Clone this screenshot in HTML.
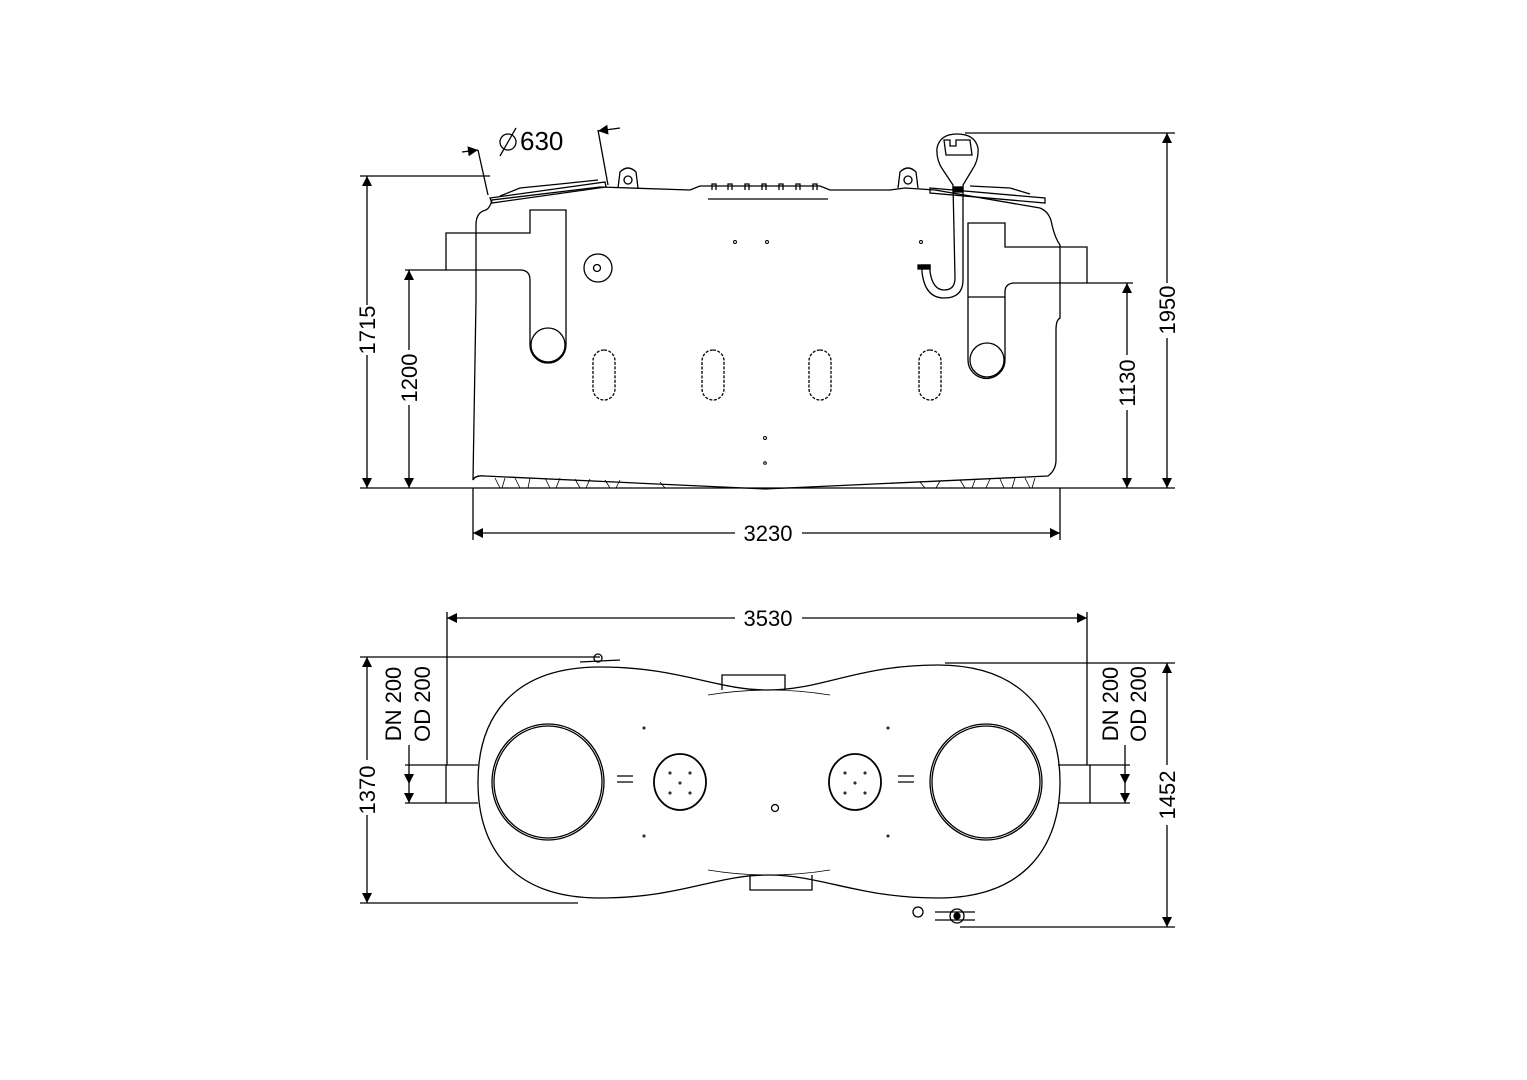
<!DOCTYPE html>
<html><head><meta charset="utf-8"><style>
html,body{margin:0;padding:0;background:#fff}
svg{display:block}
text{font-family:"Liberation Sans",Arial,sans-serif;font-size:22px;fill:#000}
</style></head><body>
<svg width="1527" height="1080" viewBox="0 0 1527 1080" xmlns="http://www.w3.org/2000/svg">
<defs>
<marker id="a" viewBox="0 0 10 10" refX="10" refY="5" markerWidth="14" markerHeight="10" markerUnits="userSpaceOnUse" orient="auto-start-reverse"><path d="M0,0 L10,5 L0,10 Z" fill="#000"/></marker>
</defs>
<g fill="none" stroke="#000" stroke-width="1.3">
<line x1="360" y1="488" x2="1175" y2="488"/>
<path d="M486,210 Q476,212 476,225 L476,300 L473,480 Q475,475 485,476 L765,489 L1048,476 Q1056,470 1056,460 L1056,330 Q1056,320 1060,318 L1060,245 Q1055,238 1052,225 Q1050,212 1040,208 L935,190 L905,188 L890,190 L830,190 L820,186 L700,186 L690,190 L600,187 L492,200 Q490,208 486,210 Z"/>
<path d="M490,198 L605,182 L606,187 L492,203 Z"/>
<path d="M500,196 L520,188 L560,184 L598,180"/>
<path d="M618,188 L620,172 Q628,164 636,172 L638,188"/><circle cx="628" cy="180" r="4"/>
<path d="M898,188 L900,172 Q908,164 916,172 L918,188"/><circle cx="908" cy="180" r="4"/>
<path d="M930,188 L1045,198 L1045,203 L930,193 Z"/>
<path d="M970,186 L1010,188 L1030,194"/>
<path d="M712,190 L712,184 L716,184 L716,190 M728,190 L728,184 L732,184 L732,190 M745,190 L745,184 L749,184 L749,190 M762,190 L762,184 L766,184 L766,190 M779,190 L779,184 L783,184 L783,190 M796,190 L796,184 L800,184 L800,190 M813,190 L813,184 L817,184 L817,190"/>
<line x1="708" y1="199" x2="828" y2="199"/>
<path d="M446,233 L530,233 L530,210 L566,210 L566,345 A18,18 0 0 1 530,345 L530,280 Q530,270 520,270 L446,270 Z"/>
<circle cx="548" cy="345" r="17"/>
<path d="M1087,247 L1005,247 L1005,223 L968,223 L968,360 A18,18 0 0 0 1005,360 L1005,292 Q1005,283 1015,283 L1087,283 Z"/>
<circle cx="987" cy="360" r="17"/>
<line x1="968" y1="297" x2="1005" y2="297"/>
<path d="M953,185 L943,170 Q936,160 937,148 Q940,134 957,134 Q975,134 978,148 Q979,160 972,170 L963,185 L963,280 Q963,298 944,298 Q925,298 922,272 L922,265 L930,265 L930,272 Q933,290 944,290 Q955,290 955,278 L953,185 Z"/>
<path d="M944,140 L950,140 L950,146 L956,146 L956,140 L970,140 L972,155 L946,155 Z"/>
<rect x="953" y="187" width="10" height="5" fill="#000"/>
<rect x="918" y="265" width="12" height="4" fill="#000"/>
<circle cx="598" cy="268" r="14"/><circle cx="597" cy="268" r="3.5"/>
<g stroke-dasharray="3,1.5">
<rect x="593" y="350" width="22" height="50" rx="11"/>
<rect x="702" y="350" width="22" height="50" rx="11"/>
<rect x="809" y="350" width="22" height="50" rx="11"/>
<rect x="919" y="350" width="22" height="50" rx="11"/>
</g>
<g stroke-width="1"><circle cx="735" cy="242" r="1.5"/><circle cx="767" cy="242" r="1.5"/><circle cx="921" cy="242" r="1.5"/><circle cx="765" cy="438" r="1.5"/><circle cx="765" cy="463" r="1.3"/></g>
<path stroke-width="0.8" d="M495,478 L500,488 M505,478 L502,488 M515,478 L520,488 M530,478 L528,488 M545,478 L550,488 M560,478 L556,488 M575,479 L580,488 M590,479 L586,488 M605,480 L610,488 M620,480 L616,488 M660,482 L665,488 M990,479 L986,488 M1000,479 L1004,488 M1015,478 L1012,488 M1025,478 L1030,488 M1035,478 L1032,488 M920,482 L925,488 M940,481 L936,488 M960,480 L965,488 M975,480 L972,488"/>
<line x1="360" y1="176" x2="490" y2="176"/>
<line x1="367" y1="176" x2="367" y2="305" marker-start="url(#a)"/>
<line x1="367" y1="355" x2="367" y2="488" marker-end="url(#a)"/>
<line x1="405" y1="270" x2="446" y2="270"/>
<line x1="409" y1="270" x2="409" y2="350" marker-start="url(#a)"/>
<line x1="409" y1="405" x2="409" y2="488" marker-end="url(#a)"/>
<line x1="473" y1="488" x2="473" y2="540"/><line x1="1060" y1="488" x2="1060" y2="540"/>
<line x1="473" y1="533" x2="735" y2="533" marker-start="url(#a)"/>
<line x1="802" y1="533" x2="1060" y2="533" marker-end="url(#a)"/>
<line x1="1087" y1="283" x2="1133" y2="283"/>
<line x1="1127" y1="283" x2="1127" y2="355" marker-start="url(#a)"/>
<line x1="1127" y1="410" x2="1127" y2="488" marker-end="url(#a)"/>
<line x1="965" y1="133" x2="1175" y2="133"/>
<line x1="1167" y1="133" x2="1167" y2="283" marker-start="url(#a)"/>
<line x1="1167" y1="338" x2="1167" y2="488" marker-end="url(#a)"/>
<line x1="488" y1="195" x2="478" y2="150"/><line x1="608" y1="185" x2="598" y2="130"/>
<line x1="462" y1="152" x2="478" y2="150" marker-end="url(#a)"/>
<line x1="620" y1="128" x2="598" y2="131" marker-end="url(#a)"/>
<circle cx="508" cy="142" r="8"/><line x1="500" y1="156" x2="516" y2="128"/>

<path d="M600,667 C510,667 478,720 478,782 C478,845 510,898 600,898 C680,898 715,875 768,875 C822,875 858,898 938,898 C1026,898 1060,845 1060,782 C1060,720 1026,665 938,665 C858,665 822,690 768,690 C715,690 680,667 600,667 Z"/>
<path d="M722,690 L722,675 L785,675 L785,690"/><path d="M750,875 L750,890 L812,890 L812,875"/>
<path d="M708,695 Q768,685 830,695 M708,870 Q768,880 830,870" stroke-width="0.8"/>
<ellipse cx="548" cy="782" rx="56" ry="58"/><ellipse cx="548" cy="782" rx="54" ry="56"/>
<ellipse cx="986" cy="782" rx="56" ry="58"/><ellipse cx="986" cy="782" rx="54" ry="56"/>
<ellipse cx="680" cy="782" rx="26" ry="28" stroke-width="1.8"/>
<ellipse cx="855" cy="782" rx="26" ry="28" stroke-width="1.8"/>
<path d="M617,776 L633,776 M617,782 L633,782 M898,776 L914,776 M898,782 L914,782"/>
<circle cx="775" cy="808" r="3.5"/>
<g stroke-width="1"><circle cx="644" cy="728" r="1"/><circle cx="888" cy="728" r="1"/><circle cx="644" cy="836" r="1"/><circle cx="888" cy="836" r="1"/>
<circle cx="670" cy="773" r="1"/><circle cx="690" cy="773" r="1"/><circle cx="680" cy="783" r="1"/><circle cx="670" cy="793" r="1"/><circle cx="690" cy="793" r="1"/>
<circle cx="845" cy="773" r="1"/><circle cx="865" cy="773" r="1"/><circle cx="855" cy="783" r="1"/><circle cx="845" cy="793" r="1"/><circle cx="865" cy="793" r="1"/></g>
<path d="M478,765 L446,765 L446,803 L478,803"/>
<path d="M1058,765 L1090,765 L1090,803 L1058,803"/>
<circle cx="598" cy="658" r="4"/><path d="M580,662 L620,660"/>
<circle cx="918" cy="912" r="5"/><circle cx="957" cy="916" r="7"/><circle cx="957" cy="916" r="3" fill="#000"/><path d="M935,912 L975,912 M935,920 L975,920"/>
<line x1="447" y1="612" x2="447" y2="765"/><line x1="1087" y1="612" x2="1087" y2="765"/>
<line x1="447" y1="618" x2="735" y2="618" marker-start="url(#a)"/>
<line x1="802" y1="618" x2="1087" y2="618" marker-end="url(#a)"/>
<line x1="360" y1="657" x2="600" y2="657"/>
<line x1="360" y1="903" x2="578" y2="903"/>
<line x1="367" y1="657" x2="367" y2="760" marker-start="url(#a)"/>
<line x1="367" y1="815" x2="367" y2="903" marker-end="url(#a)"/>
<line x1="945" y1="663" x2="1175" y2="663"/>
<line x1="960" y1="927" x2="1175" y2="927"/>
<line x1="1167" y1="663" x2="1167" y2="765" marker-start="url(#a)"/>
<line x1="1167" y1="825" x2="1167" y2="927" marker-end="url(#a)"/>
<line x1="405" y1="765" x2="446" y2="765"/><line x1="405" y1="803" x2="446" y2="803"/>
<line x1="409" y1="745" x2="409" y2="784" marker-end="url(#a)"/>
<line x1="409" y1="784" x2="409" y2="803" marker-end="url(#a)"/>
<line x1="1090" y1="765" x2="1130" y2="765"/><line x1="1090" y1="803" x2="1130" y2="803"/>
<line x1="1125" y1="745" x2="1125" y2="784" marker-end="url(#a)"/>
<line x1="1125" y1="784" x2="1125" y2="803" marker-end="url(#a)"/>
</g>
<text x="520" y="150" style="font-size:26px">630</text>
<text x="768" y="541" text-anchor="middle">3230</text>
<text x="768" y="626" text-anchor="middle">3530</text>
<text transform="translate(375,330) rotate(-90)" text-anchor="middle">1715</text>
<text transform="translate(417,378) rotate(-90)" text-anchor="middle">1200</text>
<text transform="translate(1135,383) rotate(-90)" text-anchor="middle">1130</text>
<text transform="translate(1175,310) rotate(-90)" text-anchor="middle">1950</text>
<text transform="translate(375,790) rotate(-90)" text-anchor="middle">1370</text>
<text transform="translate(1175,795) rotate(-90)" text-anchor="middle">1452</text>
<text transform="translate(401,704) rotate(-90)" text-anchor="middle">DN 200</text>
<text transform="translate(430,704) rotate(-90)" text-anchor="middle">OD 200</text>
<text transform="translate(1118,704) rotate(-90)" text-anchor="middle">DN 200</text>
<text transform="translate(1146,704) rotate(-90)" text-anchor="middle">OD 200</text>
</svg>
</body></html>
